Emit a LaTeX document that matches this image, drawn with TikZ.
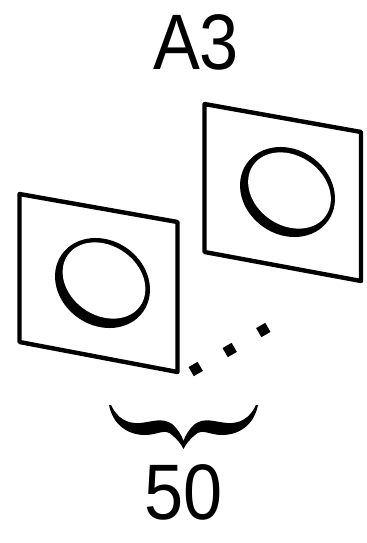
\documentclass[tikz,border=0pt]{standalone}
\usepackage{fontspec}
\setmainfont{Liberation Sans}
\usetikzlibrary{shapes.geometric}

\begin{document}
\begin{tikzpicture}[
    x=0.02cm, y=-0.02cm,
    panel/.style={draw, line width=2.5pt, line join=round},
    ringouter/.style={ellipse, fill=black, inner sep=0pt, minimum width=1.99cm, minimum height=1.7cm, rotate=-35},
    ringinner/.style={ellipse, fill=white, inner sep=0pt, minimum width=1.77cm, minimum height=1.39cm, rotate=-35},
    dotmark/.style={rectangle, fill=black, inner sep=0pt, minimum size=0.21cm, rotate=30},
    bigtext/.style={font=\fontsize{40}{48}\selectfont, inner sep=0pt, yscale=1.12}
]
\useasboundingbox (0, 0) rectangle (367, 543);

\node[bigtext] (title) at (196, 42) {A3};
\node[bigtext] (count) at (184, 492.5) {50};

\draw[panel] (19.5, 194) -- (177.5, 222) -- (177.5, 372) -- (19.5, 342) -- cycle;
\node[ringouter] (leftouter) at (102.5, 283) {};
\node[ringinner] (leftinner) at (104, 280.5) {};

\draw[panel] (204.5, 104) -- (361, 132) -- (361, 281) -- (204.5, 252) -- cycle;
\node[ringouter] (rightouter) at (287.5, 192) {};
\node[ringinner] (rightinner) at (289.5, 190.5) {};

\foreach \i/\px/\py in {1/195.7/369, 2/229.7/350, 3/263.3/330} {
    \node[dotmark] (dot\i) at (\px, \py) {};
}

\fill (109, 405) .. controls (113, 425) and (128, 435) .. (145, 435)
    .. controls (158, 435) and (165, 428) .. (172, 435)
    .. controls (177, 439) and (181, 444) .. (183.5, 449)
    .. controls (186, 444) and (190, 439) .. (195, 435)
    .. controls (202, 428) and (209, 435) .. (222, 435)
    .. controls (239, 435) and (254, 425) .. (258, 405)
    -- (256, 405)
    .. controls (250, 418) and (240, 424) .. (227, 423)
    .. controls (215, 422) and (205, 417) .. (195, 424)
    .. controls (189, 429) and (185, 436) .. (183.5, 441)
    .. controls (182, 436) and (178, 429) .. (172, 424)
    .. controls (162, 417) and (152, 422) .. (140, 423)
    .. controls (127, 424) and (117, 418) .. (111, 405)
    -- cycle;
\end{tikzpicture}
\end{document}
